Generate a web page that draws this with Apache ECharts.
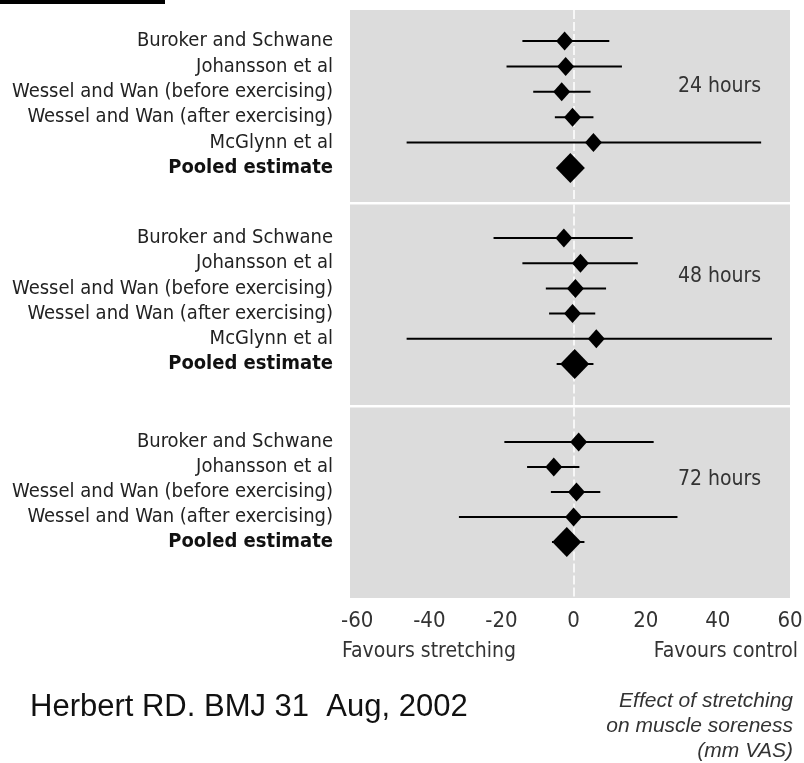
<!DOCTYPE html>
<html>
<head>
<meta charset="utf-8">
<style>html,body{margin:0;padding:0;background:#fff;}#c{width:804px;height:763px;}</style>
<script src="https://cdn.jsdelivr.net/npm/echarts@6/dist/echarts.min.js"></script>
</head>
<body>
<div id="c"></div>
<script>
// ---- data ----
const studies5 = ['Buroker and Schwane', 'Johansson et al', 'Wessel and Wan (before exercising)', 'Wessel and Wan (after exercising)', 'McGlynn et al', 'Pooled estimate'];
const studies4 = ['Buroker and Schwane', 'Johansson et al', 'Wessel and Wan (before exercising)', 'Wessel and Wan (after exercising)', 'Pooled estimate'];
const panelTitles = ['24 hours', '48 hours', '72 hours'];

const est24 = [-2.5, -2.2, -3.3, -0.3, 5.5, -0.9];
const low24 = [-14.2, -18.6, -11.2, -5.2, -46.3, -3.5];
const high24 = [9.9, 13.4, 4.7, 5.5, 52.0, 2.0];

const est48 = [-2.7, 1.9, 0.5, -0.3, 6.3, 0.3];
const low48 = [-22.2, -14.2, -7.7, -6.8, -46.3, -4.7];
const high48 = [16.4, 17.8, 9.0, 6.0, 55.0, 5.5];

const est72 = [1.4, -5.5, 0.8, 0.0, -1.9];
const low72 = [-19.2, -12.9, -6.3, -31.8, -6.0];
const high72 = [22.2, 1.6, 7.4, 28.8, 3.0];

const xTicks = [-60, -40, -20, 0, 20, 40, 60];

// ---- build ----
const FN = '"DejaVu Sans Condensed", "Liberation Sans", Arial, sans-serif';
const FS = '"Liberation Sans", Arial, sans-serif';
const panels = [
  {names: studies5, est: est24, low: low24, high: high24, top: 10, bottom: 202, min: -1.22, max: 6.34},
  {names: studies5, est: est48, low: low48, high: high48, top: 204.5, bottom: 405, min: -1.33, max: 6.63},
  {names: studies4, est: est72, low: low72, high: high72, top: 407.5, bottom: 598, min: -1.38, max: 6.24}
];
const grids = [], xAxes = [], yAxes = [], series = [], titles = [];
panels.forEach((p, k) => {
  grids.push({left: 350, width: 440, top: p.top, height: p.bottom - p.top, backgroundColor: '#dcdcdc', show: true, borderWidth: 0, containLabel: false, outerBoundsMode: 'none'});
  const last = k === panels.length - 1;
  xAxes.push({
    gridIndex: k, type: 'value', min: -62, max: 60,
    axisLine: {show: false}, axisTick: {show: false}, splitLine: {show: false},
    axisLabel: last ? {show: true, customValues: xTicks, margin: 12, color: '#333', fontFamily: FN, fontSize: 22} : {show: false}
  });
  const n = p.names.length;
  yAxes.push({
    gridIndex: k, type: 'value', inverse: true, min: p.min, max: p.max,
    axisLine: {show: false}, axisTick: {show: false}, splitLine: {show: false},
    axisLabel: {
      show: true, margin: 17, customValues: p.names.map((_, i) => i),
      formatter: v => { const i = Math.round(v); return i === n - 1 ? '{b|' + p.names[i] + '}' : p.names[i]; },
      color: '#222', fontFamily: FN, fontSize: 20,
      rich: {b: {fontWeight: 'bold', color: '#111', fontFamily: FN, fontSize: 20}}
    }
  });
  const ci = p.low.map((l, i) => [l, p.high[i], i]);
  series.push({
    type: 'custom', xAxisIndex: k, yAxisIndex: k, z: 2,
    data: ci, encode: {x: [0, 1], y: 2},
    renderItem: (params, api) => {
      const y = api.value(2);
      const s = api.coord([api.value(0), y]);
      const e = api.coord([api.value(1), y]);
      return {type: 'line', shape: {x1: s[0], y1: s[1], x2: e[0], y2: e[1]}, style: {stroke: '#000', lineWidth: 2}};
    },
    markLine: {
      silent: true, symbol: 'none', label: {show: false}, z: 1,
      lineStyle: {color: '#fff', type: [9, 3], width: 1.5, opacity: 1},
      data: [{xAxis: 0}]
    }
  });
  series.push({
    type: 'scatter', xAxisIndex: k, yAxisIndex: k, z: 10,
    symbol: 'diamond', symbolSize: [17, 19],
    itemStyle: {color: '#000', opacity: 1},
    data: p.est.slice(0, n - 1).map((v, i) => [v, i])
  });
  series.push({
    type: 'scatter', xAxisIndex: k, yAxisIndex: k, z: 10,
    symbol: 'diamond', symbolSize: [29, 30],
    itemStyle: {color: '#000', opacity: 1},
    data: [[p.est[n - 1], n - 1]]
  });
  titles.push({
    text: panelTitles[k], left: 678, top: [76, 266, 469][k],
    textStyle: {fontFamily: FN, fontSize: 21, fontWeight: 'normal', color: '#333'}, padding: 0
  });
});

const chart = echarts.init(document.getElementById('c'));
chart.setOption({
  animation: false,
  backgroundColor: '#fff',
  title: titles,
  grid: grids, xAxis: xAxes, yAxis: yAxes, series: series,
  graphic: [
    {type: 'rect', left: 0, top: 0, shape: {width: 165, height: 4}, style: {fill: '#000'}},
    {type: 'text', left: 342, top: 641, style: {text: 'Favours stretching', font: '21px ' + FN, fill: '#333'}},
    {type: 'text', right: 6, top: 641, style: {text: 'Favours control', font: '21px ' + FN, fill: '#333'}},
    {type: 'text', left: 30, top: 692, style: {text: 'Herbert RD. BMJ 31  Aug, 2002', font: '31px ' + FS, fill: '#111'}},
    {type: 'text', right: 11, top: 691, style: {text: 'Effect of stretching', font: 'italic 21px ' + FS, fill: '#333'}},
    {type: 'text', right: 11, top: 716, style: {text: 'on muscle soreness', font: 'italic 21px ' + FS, fill: '#333'}},
    {type: 'text', right: 11, top: 741, style: {text: '(mm VAS)', font: 'italic 21px ' + FS, fill: '#333'}}
  ]
});
</script>
</body>
</html>
